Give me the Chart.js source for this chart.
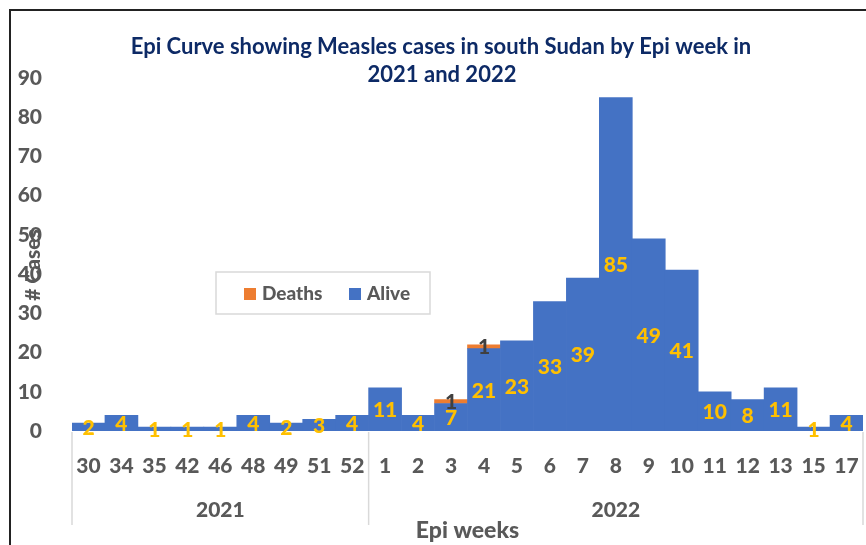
<!DOCTYPE html>
<html>
<head>
<meta charset="utf-8">
<script src="https://cdn.jsdelivr.net/npm/chart.js@4.4.1/dist/chart.umd.min.js"></script>
<style>
  html, body { margin: 0; padding: 0; background: #fff; overflow: hidden; }
  #wrap { position: relative; width: 866px; height: 545px; overflow: hidden; }
  #frame { position: absolute; left: 9px; top: 9px; width: 900px; height: 600px; border: 2px solid #222; }
  canvas { position: absolute; left: 0; top: 0; }
</style>
</head>
<body>
<div id="wrap">
  <div id="frame"></div>
  <canvas id="epiChart" width="866" height="545"></canvas>
</div>
<script>
const weeks = ["30", "34", "35", "42", "46", "48", "49", "51", "52",
  "1", "2", "3", "4", "5", "6", "7", "8", "9", "10", "11", "12", "13", "15", "17"];
const years = ["2021", "2022"];
const weeksPerYear = [9, 15];
const alive = [2, 4, 1, 1, 1, 4, 2, 3, 4,
  11, 4, 7, 21, 23, 33, 39, 85, 49, 41, 10, 8, 11, 1, 4];
const deaths = [null, null, null, null, null, null, null, null, null,
  null, null, 1, 1, null, null, null, null, null, null, null, null, null, null, null];
const yTicks = [0, 10, 20, 30, 40, 50, 60, 70, 80, 90];

const FONT = "Lato";
const W = "900";
const GREY = "#595959";

// titles, year groups, legend box and bar labels
const extras = {
  id: "extras",
  afterDatasetsDraw(chart) {
    const ctx = chart.ctx;
    const xs = chart.scales.x;
    const area = chart.chartArea;
    ctx.save();

    // bar labels
    chart.data.datasets.forEach((ds, di) => {
      const meta = chart.getDatasetMeta(di);
      ctx.font = W + " 21px " + FONT;
      ctx.textAlign = "center";
      ctx.textBaseline = "middle";
      ctx.fillStyle = ds.labelColor;
      meta.data.forEach((el, i) => {
        const v = ds.data[i];
        if (v === null || v === undefined) return;
        const p = el.getProps(["x", "y", "base"], true);
        ctx.fillText(String(v), p.x, (p.y + p.base) / 2 + 1);
      });
    });

    // chart title
    ctx.fillStyle = "#0D2A66";
    ctx.font = "bold 22px " + FONT;
    ctx.textAlign = "center";
    ctx.fillText("Epi Curve showing Measles cases in south Sudan by Epi week in", 441, 47);
    ctx.fillText("2021 and 2022", 442, 75);

    // y axis title, overlapping the ticks
    ctx.save();
    ctx.translate(33, 265);
    ctx.rotate(-Math.PI / 2);
    ctx.fillStyle = GREY;
    ctx.font = W + " 21px " + FONT;
    ctx.fillText("# Cases", 0, 0);
    ctx.restore();

    // year groups
    const bounds = [area.left];
    let c = 0;
    weeksPerYear.forEach((n) => {
      c += n;
      if (c < weeks.length) {
        bounds.push((xs.getPixelForValue(c - 1) + xs.getPixelForValue(c)) / 2);
      }
    });
    bounds.push(area.right);
    ctx.strokeStyle = "#D9D9D9";
    ctx.lineWidth = 1.5;
    bounds.forEach((bx) => {
      ctx.beginPath();
      ctx.moveTo(bx, area.bottom + 1);
      ctx.lineTo(bx, 525);
      ctx.stroke();
    });
    ctx.fillStyle = GREY;
    ctx.font = W + " 21px " + FONT;
    years.forEach((y, i) => {
      ctx.fillText(y, (bounds[i] + bounds[i + 1]) / 2, 510);
    });

    // legend box
    ctx.fillStyle = "#fff";
    ctx.fillRect(216, 272, 214, 42);
    ctx.strokeStyle = "#D9D9D9";
    ctx.lineWidth = 1.5;
    ctx.strokeRect(216, 272, 214, 42);
    const items = chart.data.datasets.slice().reverse();
    const itemX = [244, 349];
    ctx.font = W + " 19px " + FONT;
    ctx.textAlign = "left";
    items.forEach((ds, i) => {
      ctx.fillStyle = ds.backgroundColor;
      ctx.fillRect(itemX[i], 288, 12, 12);
      ctx.fillStyle = GREY;
      ctx.fillText(ds.label, itemX[i] + 18, 294);
    });

    ctx.restore();
  }
};

new Chart(document.getElementById("epiChart").getContext("2d"), {
  type: "bar",
  data: {
    labels: weeks,
    datasets: [
      {
        label: "Alive",
        data: alive,
        backgroundColor: "#4472C4",
        labelColor: "#FFC000",
        barPercentage: 1,
        categoryPercentage: 1,
      },
      {
        label: "Deaths",
        data: deaths,
        backgroundColor: "#ED7D31",
        labelColor: "#404040",
        barPercentage: 1,
        categoryPercentage: 1,
      },
    ],
  },
  options: {
    responsive: false,
    animation: false,
    devicePixelRatio: 1,
    layout: { padding: { top: 78, right: 3, left: 0, bottom: 0 } },
    plugins: {
      legend: { display: false },
      title: { display: false },
      tooltip: { enabled: false },
    },
    scales: {
      x: {
        stacked: true,
        grid: { display: false },
        border: { display: false },
        ticks: {
          color: GREY,
          autoSkip: false,
          maxRotation: 0,
          padding: 15,
          font: { family: FONT, size: 21, weight: W },
        },
        title: {
          display: true,
          text: "Epi weeks",
          color: GREY,
          padding: { top: 0, bottom: 1 },
          font: { family: FONT, size: 23, weight: W },
        },
        afterFit: (s) => {
          s.height = 114;
          s.paddingLeft = 0;
          s.paddingRight = 0;
        },
      },
      y: {
        stacked: true,
        min: 0,
        max: 90,
        grid: { display: false },
        border: { display: false },
        afterBuildTicks: (s) => { s.ticks = yTicks.map((v) => ({ value: v })); },
        ticks: {
          color: GREY,
          padding: 22,
          font: { family: FONT, size: 21, weight: W },
        },
        afterFit: (s) => {
          s.width = 72;
          s.paddingTop = 0;
          s.paddingBottom = 0;
        },
      },
    },
  },
  plugins: [extras],
});
</script>
</body>
</html>
